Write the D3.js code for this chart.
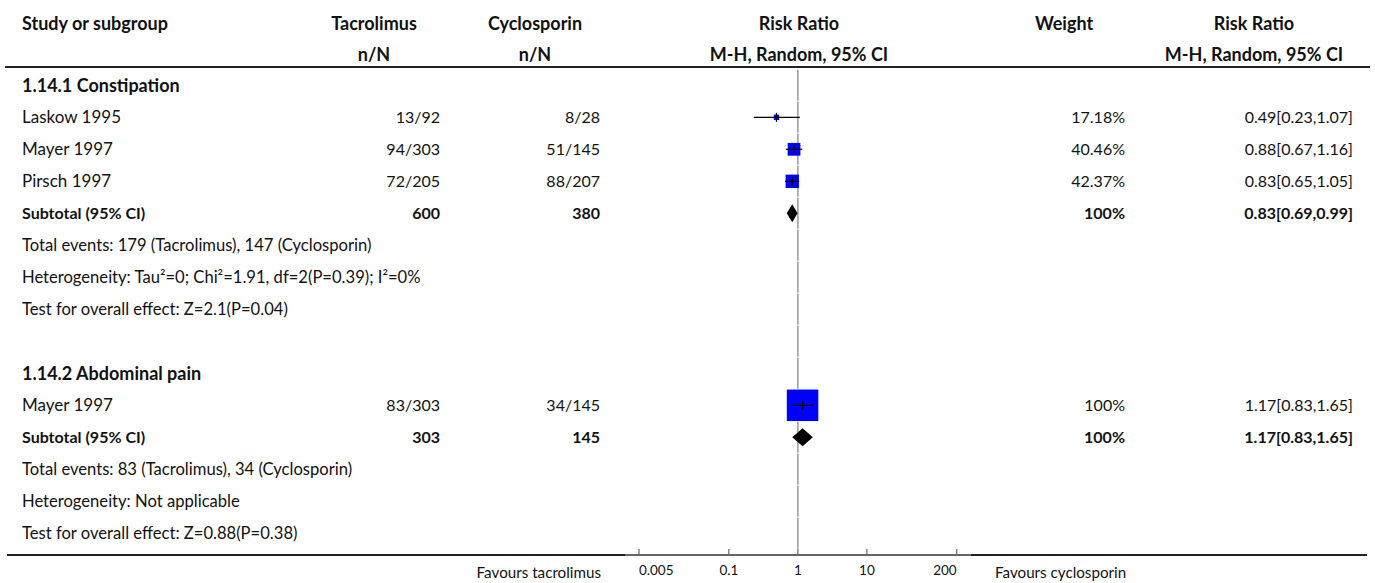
<!DOCTYPE html>
<html>
<head>
<meta charset="utf-8">
<script src="https://cdn.jsdelivr.net/npm/d3@7"></script>
<style>
  html, body { margin: 0; padding: 0; background: #fff; }
  svg text { font-family: "Lato", "Noto Sans", sans-serif; fill: #111; }
</style>
</head>
<body>
<svg id="chart" width="1375" height="583"></svg>
<script>
// ---- data ----
const subgroups = ["1.14.1 Constipation", "1.14.2 Abdominal pain"];

const studyNames   = ["Laskow 1995", "Mayer 1997", "Pirsch 1997", "Mayer 1997"];
const studyGroup   = [0, 0, 0, 1];
const tacEvents    = [13, 94, 72, 83];
const tacTotal     = [92, 303, 205, 303];
const cycEvents    = [8, 51, 88, 34];
const cycTotal     = [28, 145, 207, 145];
const studyRR      = [0.49, 0.88, 0.83, 1.17];
const studyLow     = [0.23, 0.67, 0.65, 0.83];
const studyHigh    = [1.07, 1.16, 1.05, 1.65];
const studyWeight  = [17.18, 40.46, 42.37, 100];

const subTacTotal  = [600, 303];
const subCycTotal  = [380, 145];
const subRR        = [0.83, 1.17];
const subLow       = [0.69, 0.83];
const subHigh      = [0.99, 1.65];
const subWeight    = [100, 100];

const totalEvents  = ["Total events: 179 (Tacrolimus), 147 (Cyclosporin)",
                      "Total events: 83 (Tacrolimus), 34 (Cyclosporin)"];
const heterogeneity = ["Heterogeneity: Tau\u00B2=0; Chi\u00B2=1.91, df=2(P=0.39); I\u00B2=0%",
                       "Heterogeneity: Not applicable"];
const overallEffect = ["Test for overall effect: Z=2.1(P=0.04)",
                       "Test for overall effect: Z=0.88(P=0.38)"];

const axisTicks = [0.005, 0.1, 1, 10, 200];
const favourLeft = "Favours tacrolimus";
const favourRight = "Favours cyclosporin";

// ---- build the row list ----
const rows = [];
subgroups.forEach((g, gi) => {
  if (gi > 0) rows.push({ type: "blank" });
  rows.push({ type: "group", label: g });
  studyNames.forEach((n, i) => {
    if (studyGroup[i] !== gi) return;
    rows.push({ type: "study", label: n,
      tac: `${tacEvents[i]}/${tacTotal[i]}`, cyc: `${cycEvents[i]}/${cycTotal[i]}`,
      rr: studyRR[i], lo: studyLow[i], hi: studyHigh[i], w: studyWeight[i] });
  });
  rows.push({ type: "subtotal", label: "Subtotal (95% CI)",
    tac: String(subTacTotal[gi]), cyc: String(subCycTotal[gi]),
    rr: subRR[gi], lo: subLow[gi], hi: subHigh[gi], w: subWeight[gi] });
  rows.push({ type: "note", label: totalEvents[gi] });
  rows.push({ type: "note", label: heterogeneity[gi] });
  rows.push({ type: "note", label: overallEffect[gi] });
});

// ---- layout ----
const size = { head: 18, group: 18, label: 17, num: 16, note: 16.6, sub: 16, tick: 13.5, favour: 15.2 };
const rowTop = 69.3, rowH = 32;
const axisY = 555;
const col = {
  studyX: 22,
  tacCenter: 374, tacRight: 440,
  cycCenter: 535, cycRight: 600,
  forestCenter: 799,
  weightCenter: 1064, weightRight: 1125,
  rrCenter: 1254, rrRight: 1353
};

const x = d3.scaleLog().domain([0.005, 200]).range([639, 956.7]);
const y = i => rowTop + rowH * i + rowH / 2;

const svg = d3.select("#chart");
const fmt2 = d3.format(".2f");
const ciText = r => `${fmt2(r.rr)}[${fmt2(r.lo)},${fmt2(r.hi)}]`;
const wText = w => (w === 100 ? "100" : fmt2(w)) + "%";

function txt(xp, yp, s, anchor, bold, fsz) {
  svg.append("text")
    .attr("x", xp).attr("y", yp).attr("dy", "0.35em")
    .attr("text-anchor", anchor || "start")
    .attr("font-size", fsz)
    .attr("font-weight", bold ? 700 : 400)
    .text(s);
}

// header
const h1 = 24, h2 = 55;
txt(col.studyX, h1, "Study or subgroup", "start", true, size.head);
txt(col.tacCenter, h1, "Tacrolimus", "middle", true, size.head);
txt(col.tacCenter, h2, "n/N", "middle", true, size.head);
txt(col.cycCenter, h1, "Cyclosporin", "middle", true, size.head);
txt(col.cycCenter, h2, "n/N", "middle", true, size.head);
txt(col.forestCenter, h1, "Risk Ratio", "middle", true, size.head);
txt(col.forestCenter, h2, "M-H, Random, 95% CI", "middle", true, size.head);
txt(col.weightCenter, h1, "Weight", "middle", true, size.head);
txt(col.rrCenter, h1, "Risk Ratio", "middle", true, size.head);
txt(col.rrCenter, h2, "M-H, Random, 95% CI", "middle", true, size.head);

svg.append("line").attr("x1", 5).attr("x2", 1370).attr("y1", 67).attr("y2", 67)
  .attr("stroke", "#222").attr("stroke-width", 2);

// vertical line of no effect, one segment per row
const segs = d3.range(rows.length);
svg.selectAll("line.ref").data(segs).join("line").attr("class", "ref")
  .attr("x1", x(1)).attr("x2", x(1))
  .attr("y1", i => rowTop + rowH * i + 0.5)
  .attr("y2", i => Math.min(rowTop + rowH * (i + 1) - 0.5, axisY))
  .attr("stroke", "#999").attr("stroke-width", 1.5);

// rows
rows.forEach((r, i) => {
  const yy = y(i);
  if (r.type === "group") txt(col.studyX, yy, r.label, "start", true, size.group);
  if (r.type === "note") txt(col.studyX, yy, r.label, "start", false, size.note);
  if (r.type === "study" || r.type === "subtotal") {
    const b = r.type === "subtotal";
    txt(col.studyX, yy, r.label, "start", b, b ? size.sub : size.label);
    txt(col.tacRight, yy, r.tac, "end", b, size.num);
    txt(col.cycRight, yy, r.cyc, "end", b, size.num);
    txt(col.weightRight, yy, wText(r.w), "end", b, size.num);
    txt(col.rrRight, yy, ciText(r), "end", b, size.num);
  }
  if (r.type === "study") {
    const s = r.w * 0.315;
    svg.append("rect")
      .attr("x", x(r.rr) - s / 2).attr("y", yy - s / 2)
      .attr("width", s).attr("height", s)
      .attr("fill", "#0000ff");
    svg.append("line")
      .attr("x1", x(r.lo)).attr("x2", x(r.hi)).attr("y1", yy).attr("y2", yy)
      .attr("stroke", "#000").attr("stroke-width", 1.2);
    svg.append("line")
      .attr("x1", x(r.rr)).attr("x2", x(r.rr)).attr("y1", yy - 4.5).attr("y2", yy + 4.5)
      .attr("stroke", "#000").attr("stroke-width", 1.2);
  }
  if (r.type === "subtotal") {
    const hh = 9;
    svg.append("path")
      .attr("d", `M${x(r.lo)},${yy} L${x(r.rr)},${yy - hh} L${x(r.hi)},${yy} L${x(r.rr)},${yy + hh} Z`)
      .attr("fill", "#000");
  }
});

// bottom rule and axis
svg.append("line").attr("x1", 7).attr("x2", 1367).attr("y1", axisY).attr("y2", axisY)
  .attr("stroke", "#222").attr("stroke-width", 2);

const axisG = svg.append("g").attr("transform", `translate(0,${axisY})`);
axisG.append("line").attr("x1", 625).attr("x2", 971).attr("y1", 0).attr("y2", 0)
  .attr("stroke", "#666").attr("stroke-width", 2);
axisG.selectAll("line.tick").data(axisTicks).join("line").attr("class", "tick")
  .attr("x1", d => x(d)).attr("x2", d => x(d)).attr("y1", -6).attr("y2", 0)
  .attr("stroke", "#666").attr("stroke-width", 1.2);
const lastTick = axisTicks.length - 1;
axisG.selectAll("text.tick").data(axisTicks).join("text").attr("class", "tick")
  .attr("x", d => x(d)).attr("y", 15).attr("dy", "0.35em")
  .attr("text-anchor", (d, i) => i === 0 ? "start" : (i === lastTick ? "end" : "middle"))
  .attr("font-size", size.tick)
  .text(d => String(d));

txt(601, 573, favourLeft, "end", false, size.favour);
txt(995, 573, favourRight, "start", false, size.favour);
</script>
</body>
</html>
